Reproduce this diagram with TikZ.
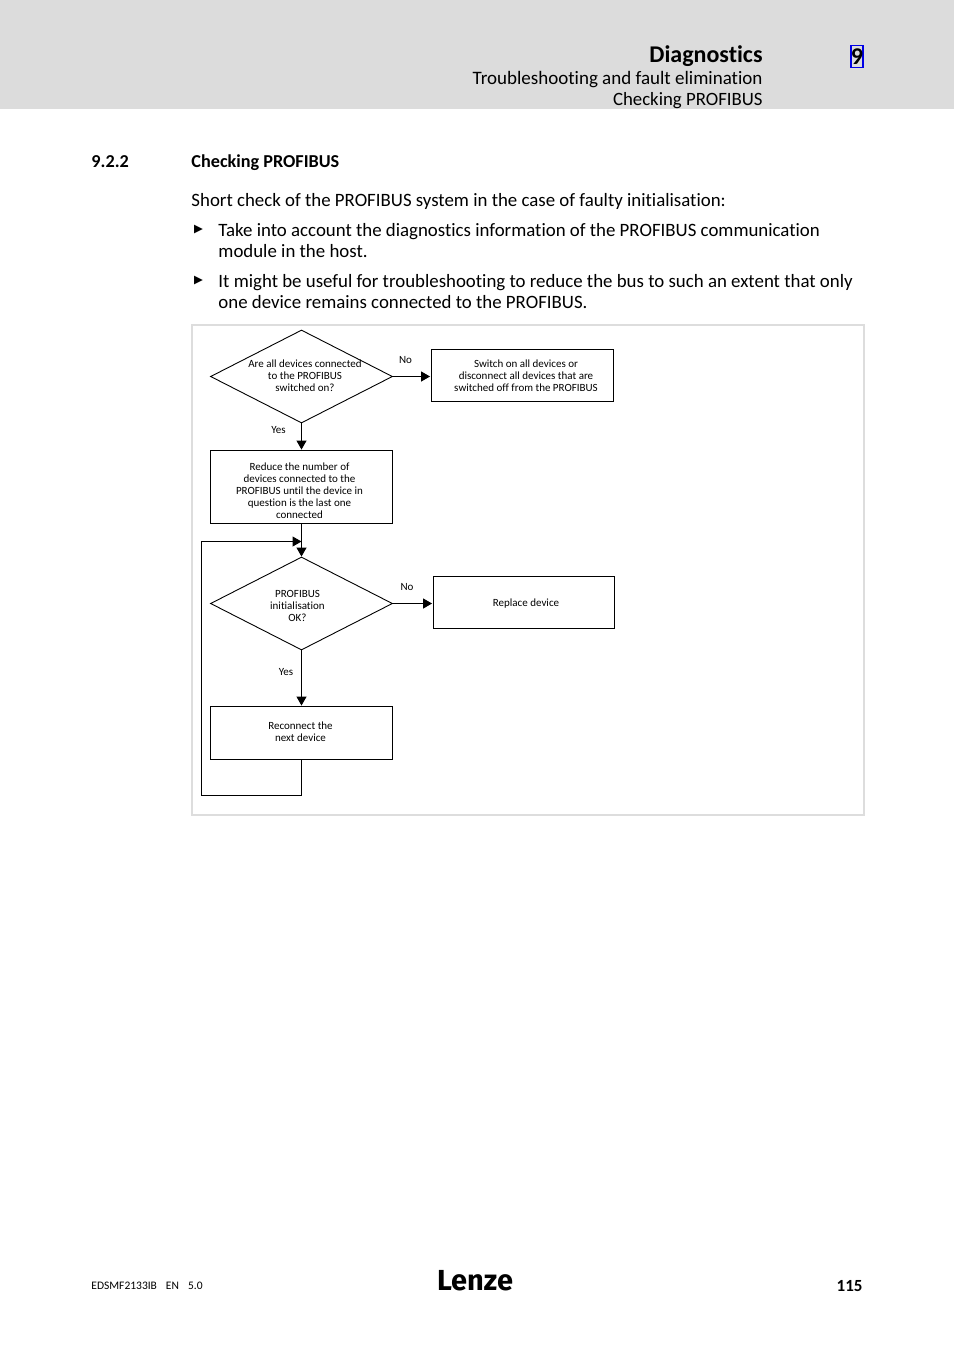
\documentclass[tikz,border=0pt]{standalone}
\usepackage{fontspec}
\setmainfont[Ligatures=NoCommon]{Carlito}
\newfontfamily\symfont{DejaVu Sans}
\newfontfamily\logofont{Fira Sans}
\usetikzlibrary{arrows.meta,shapes.geometric}
\definecolor{cHead}{HTML}{DCDCDC}
\definecolor{cFrame}{HTML}{DDDDDD}
\definecolor{cBlue}{HTML}{0000E6}
\begin{document}
\begin{tikzpicture}[x=1pt,y=-1pt,line width=0.9pt,
      dec/.style={draw,diamond,aspect=1.96,minimum width=182pt,minimum height=93pt,inner sep=0pt},
      act/.style={draw,minimum width=182pt,minimum height=52pt,inner sep=0pt},
      txt/.style={font=\fontsize{11}{12}\selectfont,align=center,inner sep=0pt},
      body/.style={font=\fontsize{18.85}{21.2}\selectfont,align=left,anchor=north west,inner sep=0pt},
      arr/.style={-{Triangle[length=9pt,width=10pt]},line width=1.1pt}]
    \useasboundingbox (0,0) rectangle (954,1350);
    \fill[cHead] (0,0) rectangle (954,109);
    \node[anchor=base east,inner sep=0pt,font=\fontsize{24}{26}\bfseries\selectfont] (title) at (763,62) {Diagnostics};
    \node[anchor=base east,inner sep=0pt,font=\fontsize{19}{21}\selectfont] (sub1) at (763,84) {Troubleshooting and fault elimination};
    \node[anchor=base east,inner sep=0pt,font=\fontsize{18.8}{21}\selectfont] (sub2) at (763,105) {Checking PROFIBUS};
    \node[draw=cBlue,line width=1.5pt,minimum width=12pt,minimum height=22pt,inner sep=0pt,font=\fontsize{24}{26}\bfseries\selectfont] (chap) at (857,56.5) {9};

    \node[anchor=base west,inner sep=0pt,font=\fontsize{18.2}{21}\bfseries\selectfont] (secnum) at (91,167) {9.2.2};
    \node[anchor=base west,inner sep=0pt,font=\fontsize{18.2}{21}\bfseries\selectfont] (sectitle) at (191,167) {Checking PROFIBUS};
    \node[body] (intro) at (191,193) {Short check of the PROFIBUS system in the case of faulty initialisation:};
    \foreach \y/\n in {230/a,281/b}
      \node[font=\fontsize{11.5}{14}\symfont,inner sep=0pt] (bul\n) at (198.5,\y) {▶};
    \node[body] (para1) at (218,223) {Take into account the diagnostics information of the PROFIBUS communication\\module in the host.};
    \node[body] (para2) at (218,274) {It might be useful for troubleshooting to reduce the bus to such an extent that only\\one device remains connected to the PROFIBUS.};

    \draw[cFrame,line width=2pt] (191.5,325) rectangle (864,815);

    \node[dec] (q1) at (301.5,376.5) {};
    \node[txt] (q1t) at (305,376) {Are all devices connected\\to the PROFIBUS\\switched on?};
    \node[act] (a1) at (522.5,375) {};
    \node[txt] (a1t) at (526,376) {Switch on all devices or\\disconnect all devices that are\\switched off from the PROFIBUS};
    \node[act,minimum height=73pt] (a2) at (301.5,486.5) {};
    \node[txt] (a2t) at (299.5,491) {Reduce the number of\\devices connected to the\\PROFIBUS until the device in\\question is the last one\\connected};
    \node[dec] (q2) at (301.5,603.5) {};
    \node[txt] (q2t) at (297.5,606) {PROFIBUS\\initialisation\\OK?};
    \node[act,minimum width=181pt] (a3) at (524,602) {};
    \node[txt] (a3t) at (526,603.5) {Replace device};
    \node[act,minimum height=53pt] (a4) at (301.5,732.5) {};
    \node[txt] (a4t) at (300.5,732) {Reconnect the\\next device};

    \coordinate (join) at (301.5,541.5);
    \coordinate (low) at (301.5,795.5);
    \coordinate (side) at (201.5,795.5);
    \coordinate (top) at (201.5,541.5);

    \draw[arr] (q1.east) -- ([xshift=-1pt]q1.east -| a1.west);
    \draw[arr] (q1.south) -- (a2.north);
    \draw[arr] (a2.south) -- (q2.north);
    \draw[arr] (q2.east) -- ([xshift=-1pt]q2.east -| a3.west);
    \draw[arr] (q2.south) -- (a4.north);
    \draw[arr] (a4.south) -- (low) -- (side) -- (top) -- (join);

    \node[txt] (no1) at (405.5,360) {No};
    \node[txt] (yes1) at (278.5,430) {Yes};
    \node[txt] (no2) at (407,587) {No};
    \node[txt] (yes2) at (286,672) {Yes};

    \node[anchor=base west,inner sep=0pt,font=\fontsize{11.5}{12}\selectfont] (doc) at (91,1289) {EDSMF2133IB\hspace{9pt}EN\hspace{9pt}5.0};
    \node[inner sep=0pt,font=\fontsize{29}{32}\logofont\bfseries\selectfont] (logo) at (475,1281) {Lenze};
    \node[anchor=base east,inner sep=0pt,font=\fontsize{17}{18}\bfseries\selectfont] (page) at (863,1291) {115};
  \end{tikzpicture}
\end{document}
